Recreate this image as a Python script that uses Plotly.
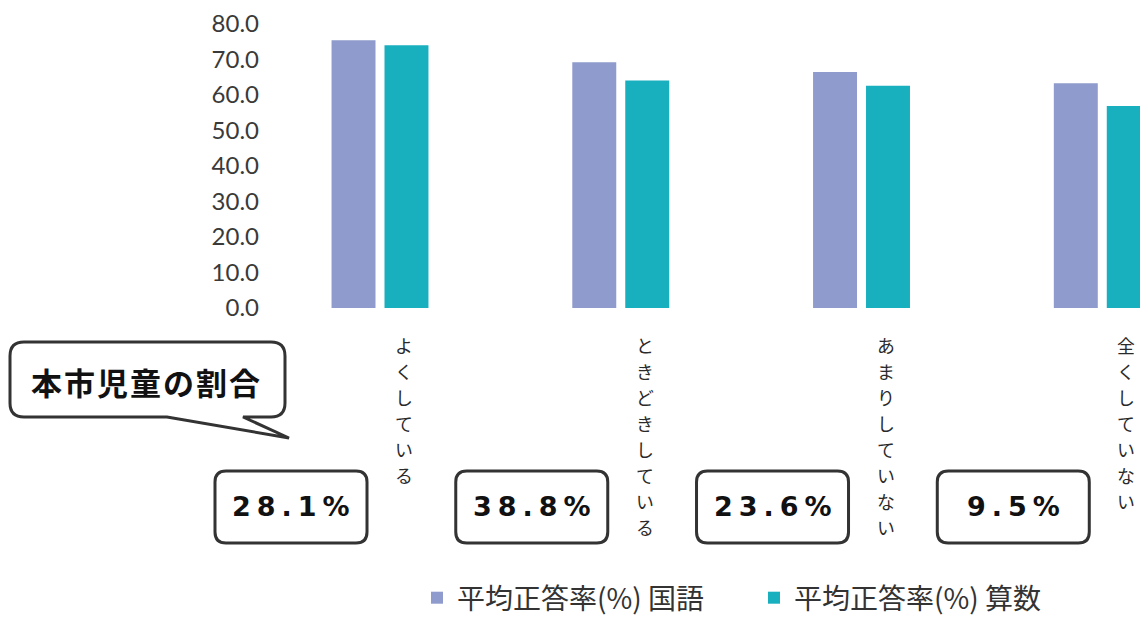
import plotly.graph_objects as go

# ---------------- data ----------------
categories = ["よくしている", "ときどきしている", "あまりしていない", "全くしていない"]
kokugo = [75.4, 69.2, 66.5, 63.3]
sansu = [74.0, 64.1, 62.6, 56.9]
shares = ["28.1%", "38.8%", "23.6%", "9.5%"]
series_names = ["平均正答率(%) 国語", "平均正答率(%) 算数"]
y_ticks = [0, 10, 20, 30, 40, 50, 60, 70, 80]
callout = "本市児童の割合"

# ---------------- layout geometry ----------------
# the page body adds an 8px offset, so the figure is drawn 8px smaller
OFF = 8
W, H = 1148 - OFF, 619 - OFF
ML, MR, MT, MB = 260 - OFF, 0, 24 - OFF, 619 - 308
PW, PH = W - ML - MR, H - MT - MB
UNIT = 240.76                      # pixels per category
XR0 = -(380 - 260) / UNIT
XR = [XR0, XR0 + PW / UNIT]
YR = [0, 80]

COL_K = "#8E9BCC"
COL_S = "#18AFBF"
INK = "#2a2a2a"


def px_x(px):
    """reference-image pixel x -> paper x"""
    return (px - OFF - ML) / PW


def px_y(py):
    """reference-image pixel y -> paper y"""
    return (H - MB - (py - OFF)) / PH


def cat_px(i):
    """category index -> reference-image pixel x"""
    return OFF + ML + (i - XR[0]) / (XR[1] - XR[0]) * PW


def path_from(cmds):
    out = []
    for cmd, pts in cmds:
        if cmd == "Z":
            out.append("Z")
            continue
        coords = " ".join(f"{px_x(x):.5f},{px_y(y):.5f}" for x, y in pts)
        out.append(f"{cmd}{coords}")
    return " ".join(out)


def rounded_rect(x0, y0, x1, y1, r):
    return path_from([
        ("M", [(x0 + r, y0)]),
        ("L", [(x1 - r, y0)]),
        ("Q", [(x1, y0), (x1, y0 + r)]),
        ("L", [(x1, y1 - r)]),
        ("Q", [(x1, y1), (x1 - r, y1)]),
        ("L", [(x0 + r, y1)]),
        ("Q", [(x0, y1), (x0, y1 - r)]),
        ("L", [(x0, y0 + r)]),
        ("Q", [(x0, y0), (x0 + r, y0)]),
        ("Z", []),
    ])


fig = go.Figure()
fig.add_trace(go.Bar(x=categories, y=kokugo, name=series_names[0],
                     marker=dict(color=COL_K, line=dict(width=0))))
fig.add_trace(go.Bar(x=categories, y=sansu, name=series_names[1],
                     marker=dict(color=COL_S, line=dict(width=0))))

shapes = []
annotations = []

# category labels: vertical, one upright character per row, right of each group
PITCH = 26
for i, c in enumerate(categories):
    for k, ch in enumerate(c):
        annotations.append(dict(
            x=c, xref="x", y=px_y(345 + PITCH * k), yref="paper", xshift=24,
            text=ch, showarrow=False, xanchor="center", yanchor="middle",
            font=dict(family="Noto Sans CJK JP", size=17.9, color=INK),
        ))

# percentage boxes
for i, s in enumerate(shares):
    cx = cat_px(i) - 89
    x0, x1 = cx - 76, cx + 76
    y0, y1 = 471, 543
    shapes.append(dict(type="path", path=rounded_rect(x0, y0, x1, y1, 11),
                       xref="paper", yref="paper", layer="above",
                       line=dict(color="#333333", width=3), fillcolor="white"))
    annotations.append(dict(
        x=px_x(cx + 3), y=px_y((y0 + y1) / 2), xref="paper", yref="paper",
        text=f'<span style="letter-spacing:6px">{s}</span>', showarrow=False,
        xanchor="center", yanchor="middle",
        font=dict(family="DejaVu Sans", size=27, color="#111111", weight="bold"),
    ))

# speech bubble
bx0, by0, bx1, by1, br = 10, 342, 285, 417, 14
bubble = path_from([
    ("M", [(bx0 + br, by0)]),
    ("L", [(bx1 - br, by0)]),
    ("Q", [(bx1, by0), (bx1, by0 + br)]),
    ("L", [(bx1, by1 - br)]),
    ("Q", [(bx1, by1), (bx1 - br, by1)]),
    ("L", [(243, by1)]),
    ("L", [(289, 438)]),
    ("L", [(167, by1)]),
    ("L", [(bx0 + br, by1)]),
    ("Q", [(bx0, by1), (bx0, by1 - br)]),
    ("L", [(bx0, by0 + br)]),
    ("Q", [(bx0, by0), (bx0 + br, by0)]),
    ("Z", []),
])
shapes.append(dict(type="path", path=bubble, xref="paper", yref="paper",
                   layer="above",
                   line=dict(color="#333333", width=3), fillcolor="white"))
annotations.append(dict(
    x=px_x(146), y=px_y(382), xref="paper", yref="paper",
    text=f'<span style="letter-spacing:2px">{callout}</span>', showarrow=False,
    xanchor="center", yanchor="middle",
    font=dict(family="Noto Sans CJK JP", size=31, color="#111111", weight="bold"),
))

fig.update_layout(
    width=W, height=H,
    margin=dict(l=ML, r=MR, t=MT, b=MB, pad=0, autoexpand=False),
    paper_bgcolor="white", plot_bgcolor="white",
    barmode="group", bargap=0.56, bargroupgap=0.17,
    showlegend=True,
    legend=dict(orientation="h", xref="container", yref="container",
                x=(417 - OFF) / W, xanchor="left",
                y=(619 - 598) / H, yanchor="middle",
                entrywidth=292,
                font=dict(family="Noto Sans CJK JP", size=28, color="#333333"),
                bgcolor="rgba(0,0,0,0)"),
    xaxis=dict(range=XR, showticklabels=False, showgrid=False, zeroline=False,
               showline=False, ticks="", automargin=False),
    yaxis=dict(range=YR, tickvals=y_ticks, tickformat=".1f", showgrid=False,
               zeroline=False, showline=False, ticks="", automargin=False,
               ticklabeloverflow="allow",
               tickfont=dict(family="Lato", size=24, color="#3a3a3a")),
    shapes=shapes,
    annotations=annotations,
)

fig.write_html("out.html")
